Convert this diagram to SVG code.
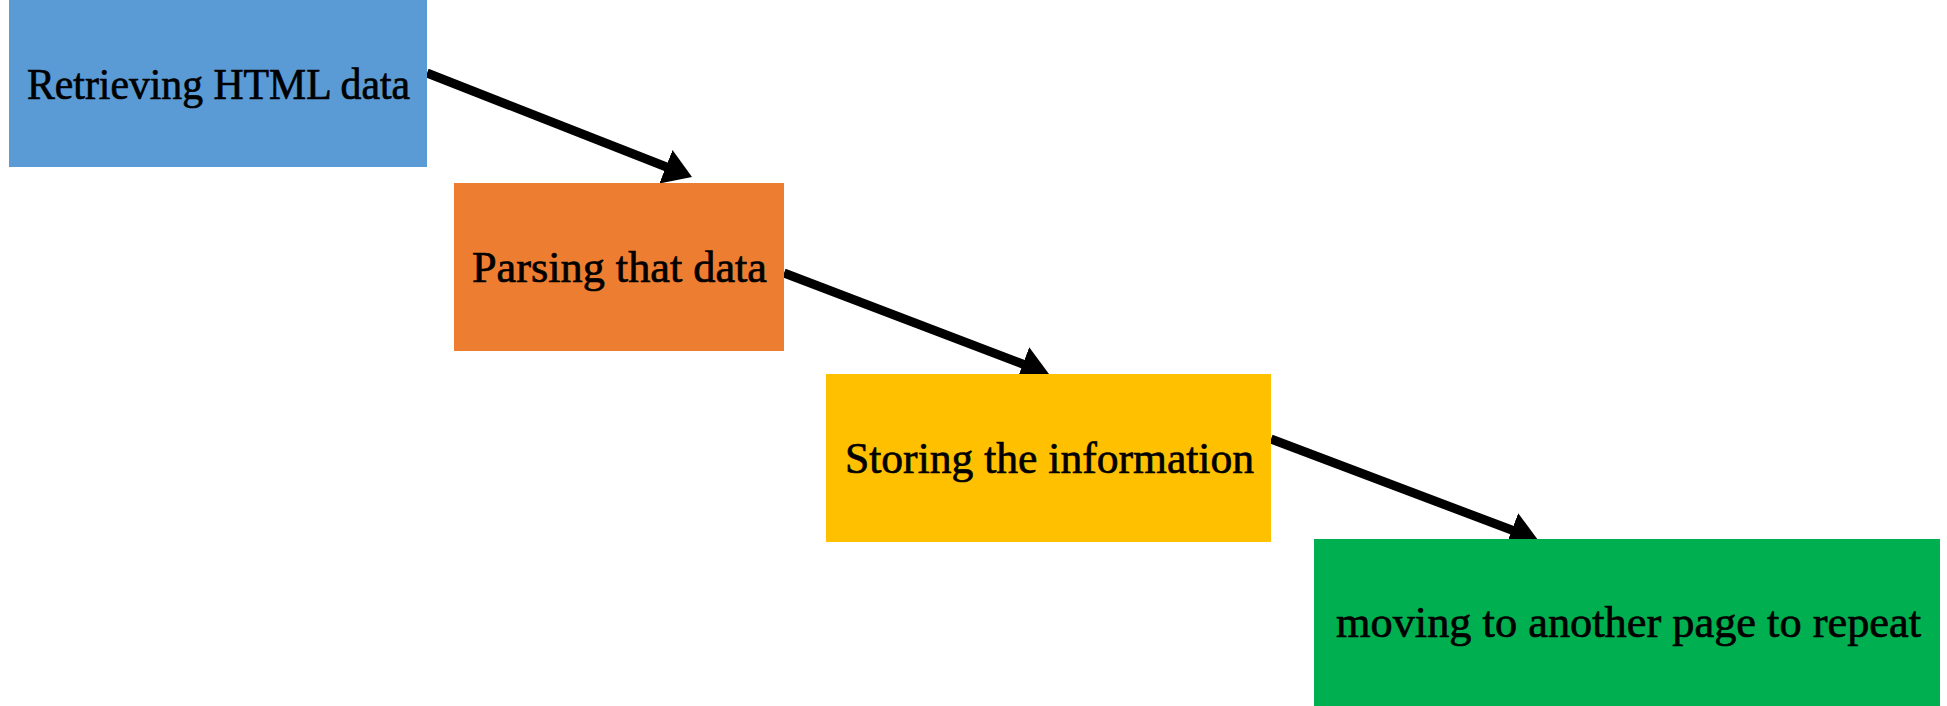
<svg xmlns="http://www.w3.org/2000/svg" width="1947" height="706" viewBox="0 0 1947 706">
<style>
.lbl{font-family:"Liberation Serif","DejaVu Serif",serif;font-size:44px;fill:#000;stroke:#000;stroke-width:0.7;}
.conn{stroke:#000;stroke-width:9;fill:none;}
</style>
<defs>
<marker id="ah" markerUnits="userSpaceOnUse" markerWidth="30" markerHeight="36" refX="2" refY="18" orient="auto">
<path d="M0,0 L28,18 L0,36 z" fill="#000"/>
</marker>
</defs>
<rect width="1947" height="706" fill="#fff"/>
<g id="connectors">
<line class="conn" x1="427" y1="73" x2="667.8" y2="167.5" marker-end="url(#ah)"/>
<line class="conn" x1="784" y1="273" x2="1024.7" y2="364.8" marker-end="url(#ah)"/>
<line class="conn" x1="1271" y1="439" x2="1513.7" y2="530.8" marker-end="url(#ah)"/>
</g>
<g id="n1">
<rect x="9" y="0" width="418" height="167" fill="#5B9BD5"/>
<text class="lbl" x="27" y="99" textLength="383" lengthAdjust="spacingAndGlyphs">Retrieving HTML data</text>
</g>
<g id="n2">
<rect x="454" y="183" width="330" height="168" fill="#ED7D31"/>
<text class="lbl" x="472" y="282" textLength="295" lengthAdjust="spacingAndGlyphs">Parsing that data</text>
</g>
<g id="n3">
<rect x="826" y="374" width="445" height="168" fill="#FFC000"/>
<text class="lbl" x="845" y="473" textLength="409" lengthAdjust="spacingAndGlyphs">Storing the information</text>
</g>
<g id="n4">
<rect x="1314" y="539" width="626" height="167" fill="#00B050"/>
<text class="lbl" x="1336" y="637" textLength="585" lengthAdjust="spacingAndGlyphs">moving to another page to repeat</text>
</g>
</svg>
